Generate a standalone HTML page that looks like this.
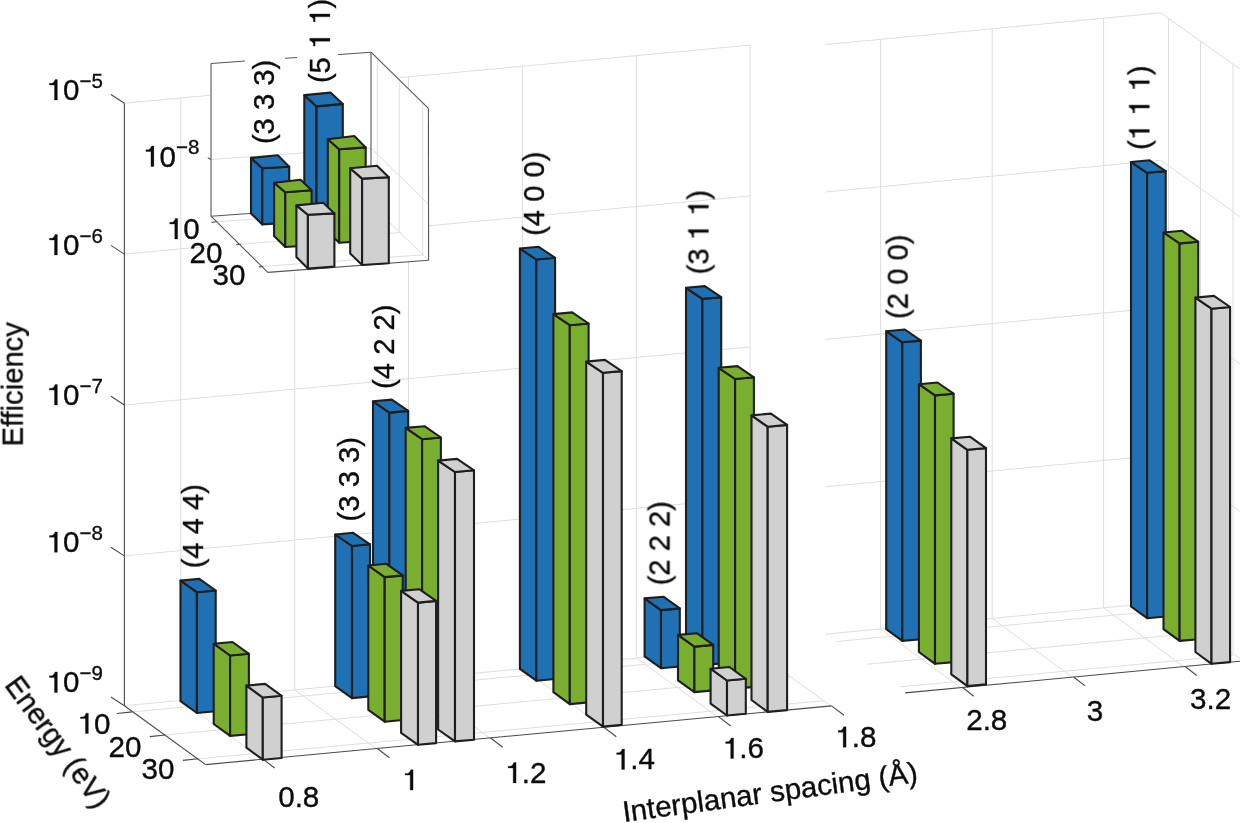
<!DOCTYPE html>
<html><head><meta charset="utf-8"><title>Efficiency vs interplanar spacing</title>
<style>
html,body{margin:0;padding:0;background:#fff;}
svg{display:block;}
text{font-family:"Liberation Sans",sans-serif;fill:#0a0a0a;stroke:#0a0a0a;stroke-width:0.35px;}
</style></head><body>
<svg width="1240" height="823" viewBox="0 0 1240 823">
<rect width="1240" height="823" fill="#fff"/>
<line x1="124.4" y1="103.2" x2="209.5" y2="95.3" stroke="#dedede" stroke-width="1.0" />
<line x1="399.2" y1="77.7" x2="750.1" y2="45.1" stroke="#dedede" stroke-width="1.0" />
<line x1="124.4" y1="254.1" x2="210.5" y2="246.1" stroke="#dedede" stroke-width="1.0" />
<line x1="428.8" y1="225.8" x2="750.1" y2="196.0" stroke="#dedede" stroke-width="1.0" />
<line x1="124.4" y1="405.0" x2="750.1" y2="346.9" stroke="#dedede" stroke-width="1.0" />
<line x1="124.4" y1="555.9" x2="750.1" y2="497.8" stroke="#dedede" stroke-width="1.0" />
<line x1="124.4" y1="705.7" x2="750.1" y2="647.6" stroke="#dedede" stroke-width="1.0" />
<line x1="180.8" y1="98.0" x2="180.8" y2="700.5" stroke="#dedede" stroke-width="1.0" />
<line x1="294.7" y1="272.5" x2="294.7" y2="689.9" stroke="#dedede" stroke-width="1.0" />
<line x1="408.5" y1="76.8" x2="408.5" y2="679.3" stroke="#dedede" stroke-width="1.0" />
<line x1="522.4" y1="66.2" x2="522.4" y2="668.7" stroke="#dedede" stroke-width="1.0" />
<line x1="636.3" y1="55.6" x2="636.3" y2="658.1" stroke="#dedede" stroke-width="1.0" />
<line x1="750.1" y1="45.1" x2="750.1" y2="647.6" stroke="#dedede" stroke-width="1.0" />
<line x1="180.8" y1="700.5" x2="262.1" y2="759.1" stroke="#dedede" stroke-width="1.0" />
<line x1="294.7" y1="689.9" x2="376.0" y2="748.5" stroke="#dedede" stroke-width="1.0" />
<line x1="408.5" y1="679.3" x2="489.8" y2="737.9" stroke="#dedede" stroke-width="1.0" />
<line x1="522.4" y1="668.7" x2="603.7" y2="727.3" stroke="#dedede" stroke-width="1.0" />
<line x1="636.3" y1="658.1" x2="717.6" y2="716.7" stroke="#dedede" stroke-width="1.0" />
<line x1="750.1" y1="647.6" x2="831.4" y2="706.2" stroke="#dedede" stroke-width="1.0" />
<line x1="132.3" y1="711.9" x2="758.0" y2="653.8" stroke="#dedede" stroke-width="1.0" />
<line x1="165.3" y1="735.0" x2="791.0" y2="676.9" stroke="#dedede" stroke-width="1.0" />
<line x1="198.4" y1="758.8" x2="824.1" y2="700.7" stroke="#dedede" stroke-width="1.0" />
<polyline points="825.2,44.6 1160.7,12.8 1240,69.2" fill="none" stroke="#dedede" stroke-width="1"/>
<polyline points="825.2,192.0 1160.7,160.2 1240,216.6" fill="none" stroke="#dedede" stroke-width="1"/>
<polyline points="825.2,339.4 1160.7,307.6 1240,364.0" fill="none" stroke="#dedede" stroke-width="1"/>
<polyline points="825.2,486.8 1160.7,455.0 1240,511.4" fill="none" stroke="#dedede" stroke-width="1"/>
<polyline points="825.2,634.2 1160.7,602.4 1240,658.8" fill="none" stroke="#dedede" stroke-width="1"/>
<line x1="880.6" y1="39.3" x2="880.6" y2="628.9" stroke="#dedede" stroke-width="1.0" />
<line x1="880.6" y1="628.9" x2="960.5" y2="687.6" stroke="#dedede" stroke-width="1.0" />
<line x1="992.2" y1="28.8" x2="992.2" y2="618.4" stroke="#dedede" stroke-width="1.0" />
<line x1="992.2" y1="618.4" x2="1072.1" y2="677.1" stroke="#dedede" stroke-width="1.0" />
<line x1="1103.6" y1="18.2" x2="1103.6" y2="607.8" stroke="#dedede" stroke-width="1.0" />
<line x1="1103.6" y1="607.8" x2="1183.5" y2="666.5" stroke="#dedede" stroke-width="1.0" />
<line x1="1168.5" y1="18.3" x2="1168.5" y2="607.9" stroke="#dedede" stroke-width="1.0" />
<line x1="1200.5" y1="41.1" x2="1200.5" y2="630.7" stroke="#dedede" stroke-width="1.0" />
<line x1="1233.0" y1="64.2" x2="1233.0" y2="653.8" stroke="#dedede" stroke-width="1.0" />
<line x1="835.5" y1="641.6" x2="1168.5" y2="610.0" stroke="#dedede" stroke-width="1.0" />
<line x1="867.5" y1="664.2" x2="1200.5" y2="632.6" stroke="#dedede" stroke-width="1.0" />
<line x1="899.6" y1="686.9" x2="1233.0" y2="655.3" stroke="#dedede" stroke-width="1.0" />
<line x1="124.4" y1="103.2" x2="124.4" y2="705.7" stroke="#4a4a4a" stroke-width="1.1" />
<line x1="110.9" y1="94.5" x2="124.4" y2="103.2" stroke="#4a4a4a" stroke-width="1.1" />
<line x1="110.9" y1="245.4" x2="124.4" y2="254.1" stroke="#4a4a4a" stroke-width="1.1" />
<line x1="110.9" y1="396.3" x2="124.4" y2="405.0" stroke="#4a4a4a" stroke-width="1.1" />
<line x1="110.9" y1="547.2" x2="124.4" y2="555.9" stroke="#4a4a4a" stroke-width="1.1" />
<line x1="110.9" y1="697.0" x2="124.4" y2="705.7" stroke="#4a4a4a" stroke-width="1.1" />
<line x1="124.4" y1="705.7" x2="205.6" y2="764.6" stroke="#4a4a4a" stroke-width="1.1" />
<line x1="116.8" y1="713.5" x2="132.3" y2="711.9" stroke="#4a4a4a" stroke-width="1.1" />
<line x1="149.8" y1="736.6" x2="165.3" y2="735.0" stroke="#4a4a4a" stroke-width="1.1" />
<line x1="182.9" y1="760.4" x2="198.4" y2="758.8" stroke="#4a4a4a" stroke-width="1.1" />
<line x1="205.6" y1="764.6" x2="831.6" y2="705.9" stroke="#4a4a4a" stroke-width="1.1" />
<line x1="262.3" y1="758.6" x2="274.7" y2="768.0" stroke="#4a4a4a" stroke-width="1.1" />
<line x1="377.0" y1="748.3" x2="389.4" y2="757.7" stroke="#4a4a4a" stroke-width="1.1" />
<line x1="490.3" y1="737.8" x2="502.7" y2="747.2" stroke="#4a4a4a" stroke-width="1.1" />
<line x1="603.9" y1="727.3" x2="616.3" y2="736.7" stroke="#4a4a4a" stroke-width="1.1" />
<line x1="718.4" y1="716.6" x2="730.8" y2="726.0" stroke="#4a4a4a" stroke-width="1.1" />
<line x1="831.6" y1="705.9" x2="844.0" y2="715.3" stroke="#4a4a4a" stroke-width="1.1" />
<line x1="905.1" y1="692.9" x2="1240.0" y2="661.3" stroke="#4a4a4a" stroke-width="1.1" />
<line x1="962.6" y1="687.5" x2="973.8" y2="696.2" stroke="#4a4a4a" stroke-width="1.1" />
<line x1="1073.9" y1="677.2" x2="1085.1" y2="685.9" stroke="#4a4a4a" stroke-width="1.1" />
<line x1="1185.5" y1="666.8" x2="1196.7" y2="675.5" stroke="#4a4a4a" stroke-width="1.1" />
<polygon points="180.5,580.6 196.9,592.2 196.9,713.0 180.5,701.1" fill="#1f71b3" stroke="#1e1e1e" stroke-width="2.1" stroke-linejoin="round"/>
<polygon points="196.9,592.2 215.7,590.5 215.7,711.3 196.9,713.0" fill="#1f71b3" stroke="#1e1e1e" stroke-width="2.1" stroke-linejoin="round"/>
<polygon points="180.5,580.6 199.3,578.9 215.7,590.5 196.9,592.2" fill="#1f71b3" stroke="#1e1e1e" stroke-width="2.1" stroke-linejoin="round"/>
<polygon points="335.2,534.5 352.0,546.0 352.0,698.1 335.2,686.2" fill="#1f71b3" stroke="#1e1e1e" stroke-width="2.1" stroke-linejoin="round"/>
<polygon points="352.0,546.0 370.0,544.3 370.0,696.4 352.0,698.1" fill="#1f71b3" stroke="#1e1e1e" stroke-width="2.1" stroke-linejoin="round"/>
<polygon points="335.2,534.5 353.2,532.8 370.0,544.3 352.0,546.0" fill="#1f71b3" stroke="#1e1e1e" stroke-width="2.1" stroke-linejoin="round"/>
<polygon points="373.0,401.3 389.4,412.6 389.4,694.8 373.0,683.0" fill="#1f71b3" stroke="#1e1e1e" stroke-width="2.1" stroke-linejoin="round"/>
<polygon points="389.4,412.6 408.2,410.9 408.2,693.1 389.4,694.8" fill="#1f71b3" stroke="#1e1e1e" stroke-width="2.1" stroke-linejoin="round"/>
<polygon points="373.0,401.3 391.8,399.6 408.2,410.9 389.4,412.6" fill="#1f71b3" stroke="#1e1e1e" stroke-width="2.1" stroke-linejoin="round"/>
<polygon points="519.9,248.5 536.3,259.5 536.3,680.7 519.9,668.9" fill="#1f71b3" stroke="#1e1e1e" stroke-width="2.1" stroke-linejoin="round"/>
<polygon points="536.3,259.5 555.1,257.8 555.1,679.0 536.3,680.7" fill="#1f71b3" stroke="#1e1e1e" stroke-width="2.1" stroke-linejoin="round"/>
<polygon points="519.9,248.5 538.7,246.8 555.1,257.8 536.3,259.5" fill="#1f71b3" stroke="#1e1e1e" stroke-width="2.1" stroke-linejoin="round"/>
<polygon points="686.0,287.8 702.4,298.9 702.4,665.1 686.0,653.3" fill="#1f71b3" stroke="#1e1e1e" stroke-width="2.1" stroke-linejoin="round"/>
<polygon points="702.4,298.9 721.2,297.2 721.2,663.4 702.4,665.1" fill="#1f71b3" stroke="#1e1e1e" stroke-width="2.1" stroke-linejoin="round"/>
<polygon points="686.0,287.8 704.8,286.1 721.2,297.2 702.4,298.9" fill="#1f71b3" stroke="#1e1e1e" stroke-width="2.1" stroke-linejoin="round"/>
<polygon points="644.6,598.4 661.0,610.1 661.0,668.2 644.6,656.4" fill="#1f71b3" stroke="#1e1e1e" stroke-width="2.1" stroke-linejoin="round"/>
<polygon points="661.0,610.1 679.8,608.4 679.8,666.5 661.0,668.2" fill="#1f71b3" stroke="#1e1e1e" stroke-width="2.1" stroke-linejoin="round"/>
<polygon points="644.6,598.4 663.4,596.7 679.8,608.4 661.0,610.1" fill="#1f71b3" stroke="#1e1e1e" stroke-width="2.1" stroke-linejoin="round"/>
<polygon points="886.2,331.2 902.3,342.3 902.3,640.9 886.2,629.2" fill="#1f71b3" stroke="#1e1e1e" stroke-width="2.1" stroke-linejoin="round"/>
<polygon points="902.3,342.3 920.9,340.6 920.9,639.2 902.3,640.9" fill="#1f71b3" stroke="#1e1e1e" stroke-width="2.1" stroke-linejoin="round"/>
<polygon points="886.2,331.2 904.8,329.5 920.9,340.6 902.3,342.3" fill="#1f71b3" stroke="#1e1e1e" stroke-width="2.1" stroke-linejoin="round"/>
<polygon points="1131.0,162.0 1147.1,172.8 1147.1,618.2 1131.0,606.5" fill="#1f71b3" stroke="#1e1e1e" stroke-width="2.1" stroke-linejoin="round"/>
<polygon points="1147.1,172.8 1165.7,171.1 1165.7,616.5 1147.1,618.2" fill="#1f71b3" stroke="#1e1e1e" stroke-width="2.1" stroke-linejoin="round"/>
<polygon points="1131.0,162.0 1149.6,160.3 1165.7,171.1 1147.1,172.8" fill="#1f71b3" stroke="#1e1e1e" stroke-width="2.1" stroke-linejoin="round"/>
<polygon points="213.7,643.7 230.1,655.5 230.1,735.9 213.7,724.0" fill="#7aae2f" stroke="#1e1e1e" stroke-width="2.1" stroke-linejoin="round"/>
<polygon points="230.1,655.5 248.9,653.8 248.9,734.2 230.1,735.9" fill="#7aae2f" stroke="#1e1e1e" stroke-width="2.1" stroke-linejoin="round"/>
<polygon points="213.7,643.7 232.5,642.0 248.9,653.8 230.1,655.5" fill="#7aae2f" stroke="#1e1e1e" stroke-width="2.1" stroke-linejoin="round"/>
<polygon points="368.3,565.5 384.7,577.1 384.7,721.7 368.3,709.8" fill="#7aae2f" stroke="#1e1e1e" stroke-width="2.1" stroke-linejoin="round"/>
<polygon points="384.7,577.1 402.7,575.4 402.7,720.0 384.7,721.7" fill="#7aae2f" stroke="#1e1e1e" stroke-width="2.1" stroke-linejoin="round"/>
<polygon points="368.3,565.5 386.3,563.8 402.7,575.4 384.7,577.1" fill="#7aae2f" stroke="#1e1e1e" stroke-width="2.1" stroke-linejoin="round"/>
<polygon points="405.7,427.9 422.1,439.2 422.1,718.2 405.7,706.3" fill="#7aae2f" stroke="#1e1e1e" stroke-width="2.1" stroke-linejoin="round"/>
<polygon points="422.1,439.2 440.9,437.5 440.9,716.5 422.1,718.2" fill="#7aae2f" stroke="#1e1e1e" stroke-width="2.1" stroke-linejoin="round"/>
<polygon points="405.7,427.9 424.5,426.2 440.9,437.5 422.1,439.2" fill="#7aae2f" stroke="#1e1e1e" stroke-width="2.1" stroke-linejoin="round"/>
<polygon points="553.4,314.1 569.8,325.2 569.8,704.1 553.4,692.2" fill="#7aae2f" stroke="#1e1e1e" stroke-width="2.1" stroke-linejoin="round"/>
<polygon points="569.8,325.2 588.6,323.5 588.6,702.4 569.8,704.1" fill="#7aae2f" stroke="#1e1e1e" stroke-width="2.1" stroke-linejoin="round"/>
<polygon points="553.4,314.1 572.2,312.4 588.6,323.5 569.8,325.2" fill="#7aae2f" stroke="#1e1e1e" stroke-width="2.1" stroke-linejoin="round"/>
<polygon points="718.7,367.8 735.1,379.0 735.1,688.6 718.7,676.8" fill="#7aae2f" stroke="#1e1e1e" stroke-width="2.1" stroke-linejoin="round"/>
<polygon points="735.1,379.0 753.9,377.3 753.9,686.9 735.1,688.6" fill="#7aae2f" stroke="#1e1e1e" stroke-width="2.1" stroke-linejoin="round"/>
<polygon points="718.7,367.8 737.5,366.1 753.9,377.3 735.1,379.0" fill="#7aae2f" stroke="#1e1e1e" stroke-width="2.1" stroke-linejoin="round"/>
<polygon points="678.0,634.9 694.4,646.6 694.4,692.1 678.0,680.3" fill="#7aae2f" stroke="#1e1e1e" stroke-width="2.1" stroke-linejoin="round"/>
<polygon points="694.4,646.6 713.2,644.9 713.2,690.4 694.4,692.1" fill="#7aae2f" stroke="#1e1e1e" stroke-width="2.1" stroke-linejoin="round"/>
<polygon points="678.0,634.9 696.8,633.2 713.2,644.9 694.4,646.6" fill="#7aae2f" stroke="#1e1e1e" stroke-width="2.1" stroke-linejoin="round"/>
<polygon points="918.9,384.2 935.0,395.4 935.0,663.8 918.9,652.0" fill="#7aae2f" stroke="#1e1e1e" stroke-width="2.1" stroke-linejoin="round"/>
<polygon points="935.0,395.4 953.6,393.7 953.6,662.1 935.0,663.8" fill="#7aae2f" stroke="#1e1e1e" stroke-width="2.1" stroke-linejoin="round"/>
<polygon points="918.9,384.2 937.5,382.5 953.6,393.7 935.0,395.4" fill="#7aae2f" stroke="#1e1e1e" stroke-width="2.1" stroke-linejoin="round"/>
<polygon points="1163.5,232.5 1179.6,243.4 1179.6,640.9 1163.5,629.2" fill="#7aae2f" stroke="#1e1e1e" stroke-width="2.1" stroke-linejoin="round"/>
<polygon points="1179.6,243.4 1198.2,241.7 1198.2,639.2 1179.6,640.9" fill="#7aae2f" stroke="#1e1e1e" stroke-width="2.1" stroke-linejoin="round"/>
<polygon points="1163.5,232.5 1182.1,230.8 1198.2,241.7 1179.6,243.4" fill="#7aae2f" stroke="#1e1e1e" stroke-width="2.1" stroke-linejoin="round"/>
<polygon points="246.4,685.6 262.8,697.5 262.8,759.7 246.4,747.7" fill="#cfd0cf" stroke="#1e1e1e" stroke-width="2.1" stroke-linejoin="round"/>
<polygon points="262.8,697.5 281.6,695.8 281.6,758.0 262.8,759.7" fill="#cfd0cf" stroke="#1e1e1e" stroke-width="2.1" stroke-linejoin="round"/>
<polygon points="246.4,685.6 265.2,683.9 281.6,695.8 262.8,697.5" fill="#cfd0cf" stroke="#1e1e1e" stroke-width="2.1" stroke-linejoin="round"/>
<polygon points="401.1,590.9 418.0,602.6 418.0,744.8 401.1,732.9" fill="#cfd0cf" stroke="#1e1e1e" stroke-width="2.1" stroke-linejoin="round"/>
<polygon points="418.0,602.6 436.1,600.9 436.1,743.1 418.0,744.8" fill="#cfd0cf" stroke="#1e1e1e" stroke-width="2.1" stroke-linejoin="round"/>
<polygon points="401.1,590.9 419.2,589.2 436.1,600.9 418.0,602.6" fill="#cfd0cf" stroke="#1e1e1e" stroke-width="2.1" stroke-linejoin="round"/>
<polygon points="438.1,460.6 455.0,472.0 455.0,741.4 438.1,729.5" fill="#cfd0cf" stroke="#1e1e1e" stroke-width="2.1" stroke-linejoin="round"/>
<polygon points="455.0,472.0 474.0,470.3 474.0,739.7 455.0,741.4" fill="#cfd0cf" stroke="#1e1e1e" stroke-width="2.1" stroke-linejoin="round"/>
<polygon points="438.1,460.6 457.1,458.9 474.0,470.3 455.0,472.0" fill="#cfd0cf" stroke="#1e1e1e" stroke-width="2.1" stroke-linejoin="round"/>
<polygon points="586.2,361.6 603.0,372.8 603.0,726.6 586.2,714.7" fill="#cfd0cf" stroke="#1e1e1e" stroke-width="2.1" stroke-linejoin="round"/>
<polygon points="603.0,372.8 621.7,371.1 621.7,724.9 603.0,726.6" fill="#cfd0cf" stroke="#1e1e1e" stroke-width="2.1" stroke-linejoin="round"/>
<polygon points="586.2,361.6 604.9,359.9 621.7,371.1 603.0,372.8" fill="#cfd0cf" stroke="#1e1e1e" stroke-width="2.1" stroke-linejoin="round"/>
<polygon points="751.5,415.4 767.7,426.7 767.7,711.9 751.5,700.0" fill="#cfd0cf" stroke="#1e1e1e" stroke-width="2.1" stroke-linejoin="round"/>
<polygon points="767.7,426.7 787.1,424.9 787.1,710.1 767.7,711.9" fill="#cfd0cf" stroke="#1e1e1e" stroke-width="2.1" stroke-linejoin="round"/>
<polygon points="751.5,415.4 770.9,413.6 787.1,424.9 767.7,426.7" fill="#cfd0cf" stroke="#1e1e1e" stroke-width="2.1" stroke-linejoin="round"/>
<polygon points="710.6,668.7 727.0,680.5 727.0,715.5 710.6,703.6" fill="#cfd0cf" stroke="#1e1e1e" stroke-width="2.1" stroke-linejoin="round"/>
<polygon points="727.0,680.5 745.8,678.8 745.8,713.8 727.0,715.5" fill="#cfd0cf" stroke="#1e1e1e" stroke-width="2.1" stroke-linejoin="round"/>
<polygon points="710.6,668.7 729.4,667.0 745.8,678.8 727.0,680.5" fill="#cfd0cf" stroke="#1e1e1e" stroke-width="2.1" stroke-linejoin="round"/>
<polygon points="951.3,438.4 967.4,449.8 967.4,686.1 951.3,674.3" fill="#cfd0cf" stroke="#1e1e1e" stroke-width="2.1" stroke-linejoin="round"/>
<polygon points="967.4,449.8 986.0,448.1 986.0,684.4 967.4,686.1" fill="#cfd0cf" stroke="#1e1e1e" stroke-width="2.1" stroke-linejoin="round"/>
<polygon points="951.3,438.4 969.9,436.7 986.0,448.1 967.4,449.8" fill="#cfd0cf" stroke="#1e1e1e" stroke-width="2.1" stroke-linejoin="round"/>
<polygon points="1195.4,297.6 1211.5,308.7 1211.5,663.8 1195.4,652.0" fill="#cfd0cf" stroke="#1e1e1e" stroke-width="2.1" stroke-linejoin="round"/>
<polygon points="1211.5,308.7 1230.1,307.0 1230.1,662.1 1211.5,663.8" fill="#cfd0cf" stroke="#1e1e1e" stroke-width="2.1" stroke-linejoin="round"/>
<polygon points="1195.4,297.6 1214.0,295.9 1230.1,307.0 1211.5,308.7" fill="#cfd0cf" stroke="#1e1e1e" stroke-width="2.1" stroke-linejoin="round"/>
<polygon points="211,63.5 371,52.2 428.4,108.3 428.6,260.2 267.8,272.4 211,216.2" fill="#fff"/>
<polyline points="211,159.5 371,148.0 428.4,204.2" fill="none" stroke="#dedede" stroke-width="1"/>
<line x1="377.3" y1="58.4" x2="377.3" y2="210.4" stroke="#dedede" stroke-width="1.0" />
<line x1="399.2" y1="79.8" x2="399.2" y2="231.8" stroke="#dedede" stroke-width="1.0" />
<line x1="422.7" y1="102.8" x2="422.7" y2="254.8" stroke="#dedede" stroke-width="1.0" />
<polyline points="371,204.6 428.6,260.2" fill="none" stroke="#dedede" stroke-width="1"/>
<line x1="216.3" y1="221.8" x2="376.8" y2="210.2" stroke="#dedede" stroke-width="1.0" />
<line x1="240.7" y1="244.1" x2="401.2" y2="232.5" stroke="#dedede" stroke-width="1.0" />
<line x1="263.2" y1="266.4" x2="423.7" y2="254.8" stroke="#dedede" stroke-width="1.0" />
<line x1="211.0" y1="63.5" x2="211.0" y2="216.2" stroke="#555" stroke-width="1.1" />
<line x1="211.0" y1="63.5" x2="371.0" y2="52.2" stroke="#555" stroke-width="1.1" />
<line x1="371.0" y1="52.2" x2="371.0" y2="204.6" stroke="#555" stroke-width="1.1" />
<line x1="371.0" y1="52.2" x2="428.4" y2="108.3" stroke="#555" stroke-width="1.1" />
<line x1="428.4" y1="108.3" x2="428.6" y2="260.2" stroke="#555" stroke-width="1.1" />
<line x1="211.0" y1="216.2" x2="371.0" y2="204.6" stroke="#555" stroke-width="1.1" />
<line x1="211.0" y1="216.2" x2="267.8" y2="272.4" stroke="#555" stroke-width="1.1" />
<line x1="267.8" y1="272.4" x2="428.6" y2="260.2" stroke="#555" stroke-width="1.1" />
<line x1="207.8" y1="157.7" x2="211.0" y2="159.5" stroke="#555" stroke-width="1.1" />
<line x1="211.7" y1="222.4" x2="216.3" y2="221.8" stroke="#555" stroke-width="1.1" />
<line x1="236.1" y1="244.7" x2="240.7" y2="244.1" stroke="#555" stroke-width="1.1" />
<line x1="258.6" y1="267.0" x2="263.2" y2="266.4" stroke="#555" stroke-width="1.1" />
<polygon points="251.0,157.9 262.3,168.2 262.3,224.4 251.0,213.4" fill="#1f71b3" stroke="#1e1e1e" stroke-width="2.1" stroke-linejoin="round"/>
<polygon points="262.3,168.2 289.2,166.8 289.2,222.6 262.3,224.4" fill="#1f71b3" stroke="#1e1e1e" stroke-width="2.1" stroke-linejoin="round"/>
<polygon points="251.0,157.9 277.8,155.2 289.2,166.8 262.3,168.2" fill="#1f71b3" stroke="#1e1e1e" stroke-width="2.1" stroke-linejoin="round"/>
<polygon points="304.3,95.1 316.5,106.4 316.5,220.6 304.3,209.7" fill="#1f71b3" stroke="#1e1e1e" stroke-width="2.1" stroke-linejoin="round"/>
<polygon points="316.5,106.4 342.8,103.9 342.8,218.8 316.5,220.6" fill="#1f71b3" stroke="#1e1e1e" stroke-width="2.1" stroke-linejoin="round"/>
<polygon points="304.3,95.1 330.5,92.6 342.8,103.9 316.5,106.4" fill="#1f71b3" stroke="#1e1e1e" stroke-width="2.1" stroke-linejoin="round"/>
<polygon points="274.1,182.7 285.3,192.2 285.3,247.0 274.1,235.9" fill="#7aae2f" stroke="#1e1e1e" stroke-width="2.1" stroke-linejoin="round"/>
<polygon points="285.3,192.2 311.6,190.3 311.6,245.2 285.3,247.0" fill="#7aae2f" stroke="#1e1e1e" stroke-width="2.1" stroke-linejoin="round"/>
<polygon points="274.1,182.7 300.6,179.8 311.6,190.3 285.3,192.2" fill="#7aae2f" stroke="#1e1e1e" stroke-width="2.1" stroke-linejoin="round"/>
<polygon points="327.8,139.3 339.2,149.2 339.2,242.8 327.8,231.9" fill="#7aae2f" stroke="#1e1e1e" stroke-width="2.1" stroke-linejoin="round"/>
<polygon points="339.2,149.2 365.7,147.4 365.7,241.0 339.2,242.8" fill="#7aae2f" stroke="#1e1e1e" stroke-width="2.1" stroke-linejoin="round"/>
<polygon points="327.8,139.3 354.3,136.0 365.7,147.4 339.2,149.2" fill="#7aae2f" stroke="#1e1e1e" stroke-width="2.1" stroke-linejoin="round"/>
<polygon points="296.4,205.4 307.9,214.8 307.9,268.6 296.4,257.0" fill="#cfd0cf" stroke="#1e1e1e" stroke-width="2.1" stroke-linejoin="round"/>
<polygon points="307.9,214.8 334.4,213.4 334.4,266.6 307.9,268.6" fill="#cfd0cf" stroke="#1e1e1e" stroke-width="2.1" stroke-linejoin="round"/>
<polygon points="296.4,205.4 323.3,202.8 334.4,213.4 307.9,214.8" fill="#cfd0cf" stroke="#1e1e1e" stroke-width="2.1" stroke-linejoin="round"/>
<polygon points="350.2,168.2 362.1,178.6 362.1,265.0 350.2,253.6" fill="#cfd0cf" stroke="#1e1e1e" stroke-width="2.1" stroke-linejoin="round"/>
<polygon points="362.1,178.6 388.8,177.3 388.8,263.2 362.1,265.0" fill="#cfd0cf" stroke="#1e1e1e" stroke-width="2.1" stroke-linejoin="round"/>
<polygon points="350.2,168.2 377.0,165.7 388.8,177.3 362.1,178.6" fill="#cfd0cf" stroke="#1e1e1e" stroke-width="2.1" stroke-linejoin="round"/>
<rect x="245" y="50" width="40" height="14" fill="#fff"/>
<rect x="297" y="46" width="41" height="14" fill="#fff"/>
<g style="opacity:0.99">
<g transform="translate(143.0 166.5)"><path transform="translate(0.00 0.00) scale(29.6)" d="M0.367 0L0.269 0L0.269 -0.506L0.100 -0.506L0.100 -0.565L0.190 -0.565Q0.262 -0.585 0.290 -0.690L0.367 -0.690Z" fill="#0a0a0a" stroke="#0a0a0a" stroke-width="0.0101"/><text x="16.46" y="0.00" font-size="29.6">0</text><text x="32.92" y="-12.50" font-size="20.5">−8</text></g>
<g transform="translate(166.8 239.0)"><path transform="translate(0.00 0.00) scale(29.6)" d="M0.367 0L0.269 0L0.269 -0.506L0.100 -0.506L0.100 -0.565L0.190 -0.565Q0.262 -0.585 0.290 -0.690L0.367 -0.690Z" fill="#0a0a0a" stroke="#0a0a0a" stroke-width="0.0101"/><text x="16.46" y="0.00" font-size="29.6">0</text></g>
<text x="189.5" y="262.5" font-size="29.6" text-anchor="start" >20</text>
<text x="212.5" y="285.0" font-size="29.6" text-anchor="start" >30</text>
<text x="273.7" y="144.1" font-size="29.2" text-anchor="start" transform="rotate(-90 273.7 144.1)" >(3 3 3)</text>
<g transform="translate(329.9 83.1) rotate(-90)"><text x="0.00" y="0.00" font-size="29.2">(5 </text><path transform="translate(34.08 0.00) scale(29.2)" d="M0.367 0L0.269 0L0.269 -0.506L0.100 -0.506L0.100 -0.565L0.190 -0.565Q0.262 -0.585 0.290 -0.690L0.367 -0.690Z" fill="#0a0a0a" stroke="#0a0a0a" stroke-width="0.0103"/><text x="50.31" y="0.00" font-size="29.2"> </text><path transform="translate(58.43 0.00) scale(29.2)" d="M0.367 0L0.269 0L0.269 -0.506L0.100 -0.506L0.100 -0.565L0.190 -0.565Q0.262 -0.585 0.290 -0.690L0.367 -0.690Z" fill="#0a0a0a" stroke="#0a0a0a" stroke-width="0.0103"/><text x="74.66" y="0.00" font-size="29.2">)</text></g>
<g transform="translate(46.5 100.0)"><path transform="translate(0.00 0.00) scale(29.6)" d="M0.367 0L0.269 0L0.269 -0.506L0.100 -0.506L0.100 -0.565L0.190 -0.565Q0.262 -0.585 0.290 -0.690L0.367 -0.690Z" fill="#0a0a0a" stroke="#0a0a0a" stroke-width="0.0101"/><text x="16.46" y="0.00" font-size="29.6">0</text><text x="32.92" y="-12.50" font-size="20.5">−5</text></g>
<g transform="translate(46.5 255.0)"><path transform="translate(0.00 0.00) scale(29.6)" d="M0.367 0L0.269 0L0.269 -0.506L0.100 -0.506L0.100 -0.565L0.190 -0.565Q0.262 -0.585 0.290 -0.690L0.367 -0.690Z" fill="#0a0a0a" stroke="#0a0a0a" stroke-width="0.0101"/><text x="16.46" y="0.00" font-size="29.6">0</text><text x="32.92" y="-12.50" font-size="20.5">−6</text></g>
<g transform="translate(46.5 405.0)"><path transform="translate(0.00 0.00) scale(29.6)" d="M0.367 0L0.269 0L0.269 -0.506L0.100 -0.506L0.100 -0.565L0.190 -0.565Q0.262 -0.585 0.290 -0.690L0.367 -0.690Z" fill="#0a0a0a" stroke="#0a0a0a" stroke-width="0.0101"/><text x="16.46" y="0.00" font-size="29.6">0</text><text x="32.92" y="-12.50" font-size="20.5">−7</text></g>
<g transform="translate(46.5 552.3)"><path transform="translate(0.00 0.00) scale(29.6)" d="M0.367 0L0.269 0L0.269 -0.506L0.100 -0.506L0.100 -0.565L0.190 -0.565Q0.262 -0.585 0.290 -0.690L0.367 -0.690Z" fill="#0a0a0a" stroke="#0a0a0a" stroke-width="0.0101"/><text x="16.46" y="0.00" font-size="29.6">0</text><text x="32.92" y="-12.50" font-size="20.5">−8</text></g>
<g transform="translate(46.5 692.4)"><path transform="translate(0.00 0.00) scale(29.6)" d="M0.367 0L0.269 0L0.269 -0.506L0.100 -0.506L0.100 -0.565L0.190 -0.565Q0.262 -0.585 0.290 -0.690L0.367 -0.690Z" fill="#0a0a0a" stroke="#0a0a0a" stroke-width="0.0101"/><text x="16.46" y="0.00" font-size="29.6">0</text><text x="32.92" y="-12.50" font-size="20.5">−9</text></g>
<g transform="translate(77.5 733.6)"><path transform="translate(0.00 0.00) scale(29.6)" d="M0.367 0L0.269 0L0.269 -0.506L0.100 -0.506L0.100 -0.565L0.190 -0.565Q0.262 -0.585 0.290 -0.690L0.367 -0.690Z" fill="#0a0a0a" stroke="#0a0a0a" stroke-width="0.0101"/><text x="16.46" y="0.00" font-size="29.6">0</text></g>
<text x="108.5" y="756.9" font-size="29.6" text-anchor="start" >20</text>
<text x="141.5" y="778.6" font-size="29.6" text-anchor="start" >30</text>
<text x="278.2" y="806.6" font-size="29.6" text-anchor="start" >0.8</text>
<g transform="translate(402.2 790.1)"><path transform="translate(0.00 0.00) scale(29.6)" d="M0.367 0L0.269 0L0.269 -0.506L0.100 -0.506L0.100 -0.565L0.190 -0.565Q0.262 -0.585 0.290 -0.690L0.367 -0.690Z" fill="#0a0a0a" stroke="#0a0a0a" stroke-width="0.0101"/></g>
<g transform="translate(505.2 782.9)"><path transform="translate(0.00 0.00) scale(29.6)" d="M0.367 0L0.269 0L0.269 -0.506L0.100 -0.506L0.100 -0.565L0.190 -0.565Q0.262 -0.585 0.290 -0.690L0.367 -0.690Z" fill="#0a0a0a" stroke="#0a0a0a" stroke-width="0.0101"/><text x="16.46" y="0.00" font-size="29.6">.2</text></g>
<g transform="translate(613.7 769.4)"><path transform="translate(0.00 0.00) scale(29.6)" d="M0.367 0L0.269 0L0.269 -0.506L0.100 -0.506L0.100 -0.565L0.190 -0.565Q0.262 -0.585 0.290 -0.690L0.367 -0.690Z" fill="#0a0a0a" stroke="#0a0a0a" stroke-width="0.0101"/><text x="16.46" y="0.00" font-size="29.6">.4</text></g>
<g transform="translate(722.7 758.4)"><path transform="translate(0.00 0.00) scale(29.6)" d="M0.367 0L0.269 0L0.269 -0.506L0.100 -0.506L0.100 -0.565L0.190 -0.565Q0.262 -0.585 0.290 -0.690L0.367 -0.690Z" fill="#0a0a0a" stroke="#0a0a0a" stroke-width="0.0101"/><text x="16.46" y="0.00" font-size="29.6">.6</text></g>
<g transform="translate(835.2 747.2)"><path transform="translate(0.00 0.00) scale(29.6)" d="M0.367 0L0.269 0L0.269 -0.506L0.100 -0.506L0.100 -0.565L0.190 -0.565Q0.262 -0.585 0.290 -0.690L0.367 -0.690Z" fill="#0a0a0a" stroke="#0a0a0a" stroke-width="0.0101"/><text x="16.46" y="0.00" font-size="29.6">.8</text></g>
<text x="966.2" y="730.2" font-size="29.6" text-anchor="start" >2.8</text>
<text x="1086.7" y="720.9" font-size="29.6" text-anchor="start" >3</text>
<text x="1190.0" y="709.4" font-size="29.6" text-anchor="start" >3.2</text>
<text x="22.2" y="446.5" font-size="29.2" text-anchor="start" transform="rotate(-90 22.2 446.5)" >Efficiency</text>
<text x="3.7" y="685.0" font-size="29.2" text-anchor="start" transform="rotate(53.7 3.7 685.0)" >Energy (eV)</text>
<text x="624.0" y="822.0" font-size="29.4" text-anchor="start" transform="rotate(-7.7 624.0 822.0)" >Interplanar spacing (&#197;)</text>
<text x="203.4" y="568.4" font-size="29.2" text-anchor="start" transform="rotate(-90 203.4 568.4)" >(4 4 4)</text>
<text x="359.2" y="521.4" font-size="29.2" text-anchor="start" transform="rotate(-90 359.2 521.4)" >(3 3 3)</text>
<text x="393.9" y="388.9" font-size="29.2" text-anchor="start" transform="rotate(-90 393.9 388.9)" >(4 2 2)</text>
<text x="543.9" y="235.9" font-size="29.2" text-anchor="start" transform="rotate(-90 543.9 235.9)" >(4 0 0)</text>
<g transform="translate(708.5 274.4) rotate(-90)"><text x="0.00" y="0.00" font-size="29.2">(3 </text><path transform="translate(34.08 0.00) scale(29.2)" d="M0.367 0L0.269 0L0.269 -0.506L0.100 -0.506L0.100 -0.565L0.190 -0.565Q0.262 -0.585 0.290 -0.690L0.367 -0.690Z" fill="#0a0a0a" stroke="#0a0a0a" stroke-width="0.0103"/><text x="50.31" y="0.00" font-size="29.2"> </text><path transform="translate(58.43 0.00) scale(29.2)" d="M0.367 0L0.269 0L0.269 -0.506L0.100 -0.506L0.100 -0.565L0.190 -0.565Q0.262 -0.585 0.290 -0.690L0.367 -0.690Z" fill="#0a0a0a" stroke="#0a0a0a" stroke-width="0.0103"/><text x="74.66" y="0.00" font-size="29.2">)</text></g>
<text x="669.9" y="585.4" font-size="29.2" text-anchor="start" transform="rotate(-90 669.9 585.4)" >(2 2 2)</text>
<text x="907.6" y="318.9" font-size="29.2" text-anchor="start" transform="rotate(-90 907.6 318.9)" >(2 0 0)</text>
<g transform="translate(1149.4 149.9) rotate(-90)"><text x="0.00" y="0.00" font-size="29.2">(</text><path transform="translate(9.72 0.00) scale(29.2)" d="M0.367 0L0.269 0L0.269 -0.506L0.100 -0.506L0.100 -0.565L0.190 -0.565Q0.262 -0.585 0.290 -0.690L0.367 -0.690Z" fill="#0a0a0a" stroke="#0a0a0a" stroke-width="0.0103"/><text x="25.96" y="0.00" font-size="29.2"> </text><path transform="translate(34.08 0.00) scale(29.2)" d="M0.367 0L0.269 0L0.269 -0.506L0.100 -0.506L0.100 -0.565L0.190 -0.565Q0.262 -0.585 0.290 -0.690L0.367 -0.690Z" fill="#0a0a0a" stroke="#0a0a0a" stroke-width="0.0103"/><text x="50.31" y="0.00" font-size="29.2"> </text><path transform="translate(58.43 0.00) scale(29.2)" d="M0.367 0L0.269 0L0.269 -0.506L0.100 -0.506L0.100 -0.565L0.190 -0.565Q0.262 -0.585 0.290 -0.690L0.367 -0.690Z" fill="#0a0a0a" stroke="#0a0a0a" stroke-width="0.0103"/><text x="74.66" y="0.00" font-size="29.2">)</text></g>
</g>
</svg>
</body></html>
